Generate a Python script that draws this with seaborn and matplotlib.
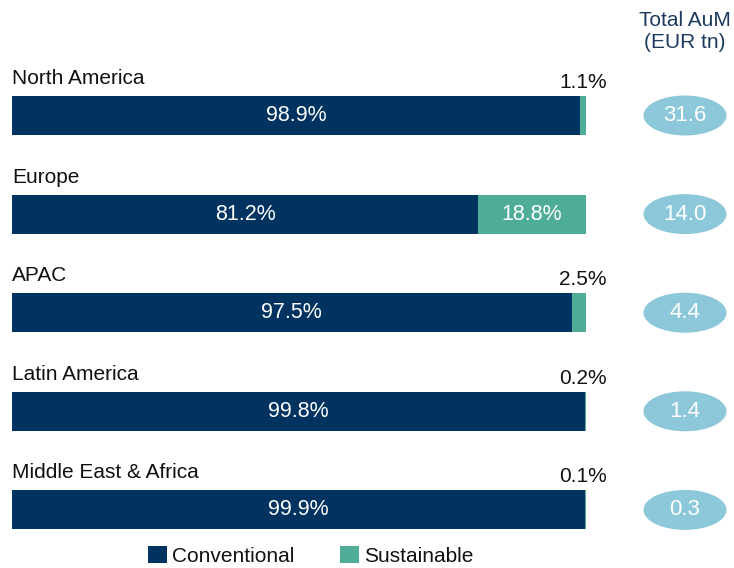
import matplotlib
matplotlib.use("Agg")
import matplotlib.pyplot as plt
from matplotlib.patches import Ellipse, Patch
import seaborn as sns
import pandas as pd

regions = ["North America", "Europe", "APAC", "Latin America", "Middle East & Africa"]
conventional = [98.9, 81.2, 97.5, 99.8, 99.9]
sustainable = [1.1, 18.8, 2.5, 0.2, 0.1]
total_aum = [31.6, 14.0, 4.4, 1.4, 0.3]
series_names = ["Conventional", "Sustainable"]

NAVY = "#00335f"
GREEN = "#4fac96"
BUBBLE = "#8cc7da"
TEXT = "#111111"
HEAD = "#1d3a5e"

sns.set_theme(style="white")
plt.rcParams["font.family"] = ["Liberation Sans", "DejaVu Sans"]

df = pd.DataFrame({"region": regions, "conv": conventional, "sust": sustainable})
df["total"] = df["conv"] + df["sust"]

W, H = 734, 568
fig = plt.figure(figsize=(W / 100, H / 100), dpi=100)
ax = fig.add_axes([0, 0, 1, 1])

x0_px, x100_px = 12, 586
ux = (x100_px - x0_px) / 100.0
yc0_px, ystep = 115.5, 98.6

sns.barplot(data=df, x="total", y="region", color=GREEN, width=0.395,
            saturation=1, ax=ax, orient="h", linewidth=0)
sns.barplot(data=df, x="conv", y="region", color=NAVY, width=0.395,
            saturation=1, ax=ax, orient="h", linewidth=0)

ax.set_xlim(-x0_px / ux, (W - x0_px) / ux)
ax.set_ylim((H - yc0_px) / ystep, -yc0_px / ystep)
ax.axis("off")

half = 0.395 / 2
for i, r in df.iterrows():
    ax.text(0, i - half - 12 / ystep, r["region"], ha="left", va="baseline",
            fontsize=15, color=TEXT)
    ax.text(r["conv"] / 2, i, f"{r['conv']:.1f}%", ha="center", va="center",
            fontsize=15.5, color="white")
    if r["sust"] > 10:
        ax.text(r["conv"] + r["sust"] / 2, i, f"{r['sust']:.1f}%", ha="center",
                va="center", fontsize=15.5, color="white")
    else:
        ax.text((607 - x0_px) / ux, i - half - 8 / ystep, f"{r['sust']:.1f}%",
                ha="right", va="baseline", fontsize=15, color=TEXT)
    cx = (685 - x0_px) / ux
    ax.add_patch(Ellipse((cx, i), width=83 / ux, height=40 / ystep,
                         facecolor=BUBBLE, edgecolor="none"))
    ax.text(cx, i, f"{total_aum[i]:.1f}", ha="center", va="center",
            fontsize=16, color="white")

fig.text(685 / W, 1 - 11 / H, "Total AuM\n(EUR tn)", ha="center", va="top",
         fontsize=15, color=HEAD, linespacing=1.2)

handles = [Patch(facecolor=NAVY, edgecolor="none"), Patch(facecolor=GREEN, edgecolor="none")]
fig.legend(handles, series_names, loc="center", bbox_to_anchor=(311 / W, 1 - 556 / H),
           ncol=2, frameon=False, fontsize=15, handlelength=0.9, handleheight=0.9,
           handletextpad=0.25, columnspacing=2.2, borderpad=0, labelcolor=TEXT)

fig.savefig("out.png", dpi=100)
